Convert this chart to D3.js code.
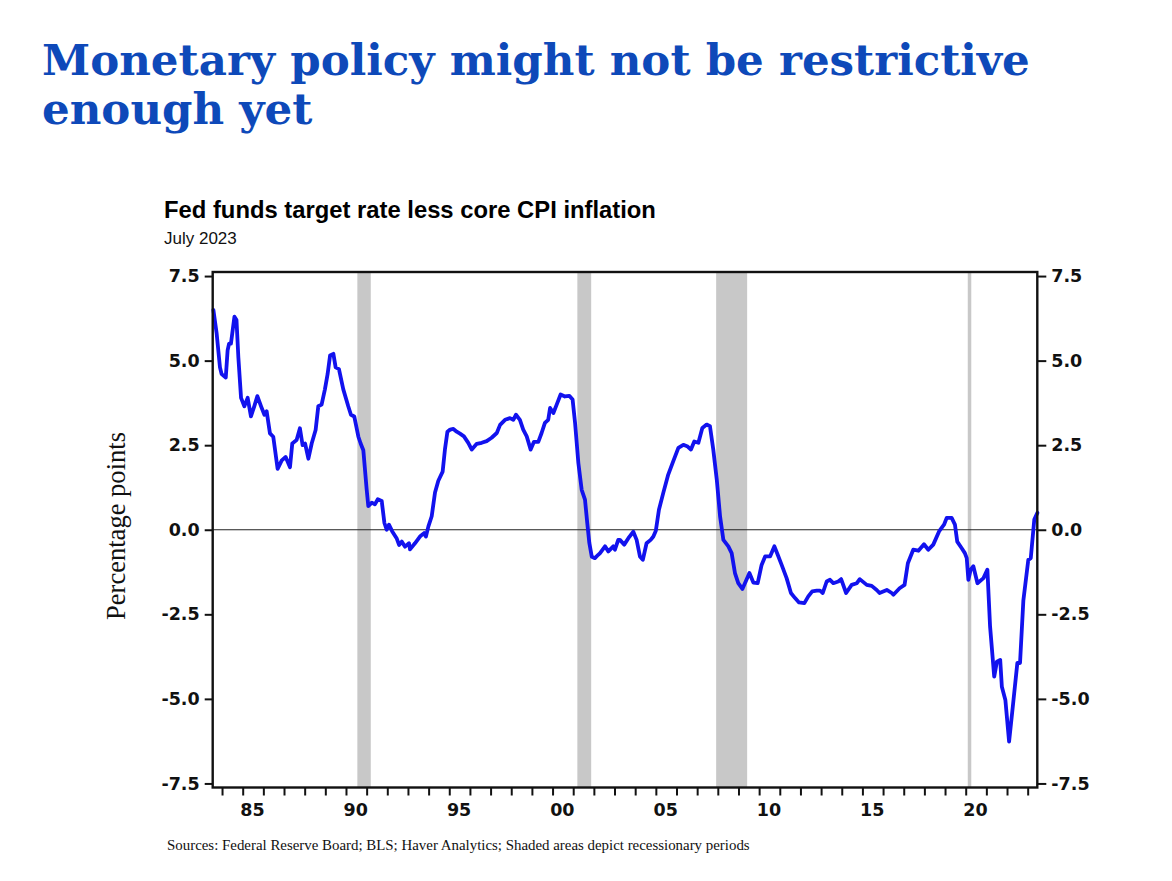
<!DOCTYPE html>
<html><head><meta charset="utf-8">
<script src="https://cdn.jsdelivr.net/npm/d3@7"></script>
<style>body{margin:0;background:#fff}svg{display:block}</style>
</head><body>
<svg id="c" width="1172" height="881"></svg>
<script>
// ---- data ----
const titleLines = ["Monetary policy might not be restrictive", "enough yet"];
const chartTitle = "Fed funds target rate less core CPI inflation";
const chartSubtitle = "July 2023";
const yLabel = "Percentage points";
const sourceText = "Sources: Federal Reserve Board; BLS; Haver Analytics; Shaded areas depict recessionary periods";

const years = [1983.58,1983.74,1983.90,1983.98,1984.18,1984.27,1984.34,1984.43,1984.60,1984.70,1984.79,1984.92,
1985.08,1985.24,1985.40,1985.56,1985.71,1985.89,1986.05,1986.16,1986.32,1986.48,1986.69,1986.89,1987.08,1987.29,1987.40,
1987.61,1987.77,1987.90,1988.02,1988.18,1988.34,1988.53,1988.66,1988.82,1988.98,1989.11,1989.23,1989.39,1989.50,1989.66,
1989.87,1990.11,1990.24,1990.40,1990.60,1990.71,1990.84,1991.00,1991.08,1991.25,1991.40,1991.54,1991.73,1991.86,1991.97,
1992.08,1992.24,1992.45,1992.57,1992.70,1992.86,1993.05,1993.10,1993.34,1993.58,1993.78,1993.87,1993.99,1994.15,1994.31,
1994.47,1994.68,1994.79,1994.91,1995.04,1995.20,1995.36,1995.52,1995.71,1995.92,1996.09,1996.33,1996.57,1996.81,1997.05,
1997.30,1997.46,1997.70,1997.94,1998.10,1998.23,1998.42,1998.58,1998.75,1998.94,1999.10,1999.31,1999.47,1999.63,1999.79,
1999.88,2000.04,2000.20,2000.39,2000.60,2000.81,2000.97,2001.09,2001.25,2001.41,2001.57,2001.68,2001.78,2001.90,2002.05,
2002.21,2002.30,2002.54,2002.70,2002.94,2003.02,2003.18,2003.26,2003.47,2003.67,2003.91,2004.07,2004.23,2004.37,2004.55,
2004.75,2004.88,2005.00,2005.15,2005.36,2005.60,2005.84,2006.09,2006.33,2006.54,2006.70,2006.86,2007.06,2007.25,2007.46,
2007.62,2007.78,2007.95,2008.11,2008.27,2008.51,2008.67,2008.83,2008.99,2009.19,2009.35,2009.53,2009.72,2009.93,2010.12,
2010.29,2010.53,2010.74,2010.90,2011.09,2011.33,2011.54,2011.74,2011.93,2012.19,2012.38,2012.57,2012.79,2012.95,2013.08,
2013.27,2013.43,2013.59,2013.83,2013.97,2014.21,2014.48,2014.73,2014.87,2015.21,2015.45,2015.69,2015.83,2016.18,2016.42,
2016.50,2016.80,2017.04,2017.20,2017.46,2017.71,2017.98,2018.19,2018.43,2018.71,2018.95,2019.08,2019.32,2019.48,2019.59,
2019.80,2019.96,2020.05,2020.13,2020.24,2020.37,2020.57,2020.86,2021.05,2021.18,2021.38,2021.51,2021.67,2021.75,2021.92,
2022.10,2022.28,2022.50,2022.63,2022.79,2023.03,2023.15,2023.32,2023.47];
const values = [6.5,5.8,4.8,4.6,4.5,5.3,5.5,5.5,6.3,6.2,5.1,3.9,
3.65,3.9,3.35,3.65,3.95,3.65,3.4,3.5,2.85,2.75,1.8,2.05,2.15,1.85,2.55,
2.65,3.0,2.5,2.55,2.1,2.55,2.95,3.65,3.7,4.15,4.6,5.15,5.2,4.8,4.75,
4.15,3.65,3.4,3.35,2.75,2.55,2.35,1.2,0.7,0.8,0.75,0.9,0.85,0.2,0.0,
0.15,-0.05,-0.25,-0.45,-0.35,-0.5,-0.4,-0.58,-0.4,-0.2,-0.1,-0.2,0.1,0.4,1.1,
1.45,1.72,2.37,2.9,2.96,2.98,2.9,2.84,2.76,2.57,2.37,2.54,2.57,2.62,2.72,
2.86,3.1,3.25,3.3,3.25,3.4,3.25,2.96,2.76,2.37,2.6,2.6,2.86,3.16,3.25,
3.6,3.45,3.7,4.0,3.94,3.96,3.85,3.16,1.97,1.18,0.89,0.2,-0.39,-0.8,-0.84,
-0.74,-0.69,-0.49,-0.64,-0.49,-0.59,-0.3,-0.3,-0.44,-0.25,-0.06,-0.3,-0.79,-0.89,-0.4,
-0.3,-0.2,-0.03,0.59,1.09,1.63,2.02,2.42,2.51,2.46,2.37,2.61,2.57,3.01,3.11,
3.06,2.37,1.48,0.39,-0.3,-0.49,-0.69,-1.28,-1.58,-1.75,-1.53,-1.28,-1.56,-1.58,-1.04,
-0.79,-0.79,-0.49,-0.74,-1.04,-1.43,-1.87,-2.02,-2.15,-2.17,-1.97,-1.82,-1.8,-1.8,-1.87,
-1.53,-1.48,-1.58,-1.53,-1.46,-1.87,-1.63,-1.58,-1.46,-1.63,-1.66,-1.78,-1.87,-1.78,-1.87,
-1.92,-1.73,-1.63,-0.99,-0.59,-0.62,-0.43,-0.59,-0.44,-0.05,0.15,0.35,0.35,0.15,-0.35,
-0.54,-0.69,-0.84,-1.48,-1.18,-1.08,-1.58,-1.43,-1.18,-2.86,-4.34,-3.9,-3.85,-4.64,-5.03,
-6.26,-5.23,-3.94,-3.94,-2.1,-0.89,-0.84,0.3,0.5];

const recessionStart = [1990.55, 2001.2, 2007.92, 2020.1];
const recessionEnd   = [1991.2, 2001.87, 2009.42, 2020.27];

const yTicks = [7.5, 5.0, 2.5, 0.0, -2.5, -5.0, -7.5];
const xMajorTicks = [1985, 1990, 1995, 2000, 2005, 2010, 2015, 2020];
const xMinorTicks = d3.range(1984, 2024);

// ---- layout ----
const svg = d3.select("#c");
const L = 212.7, R = 1037.3, T = 272, B = 787.5;
const x = d3.scaleLinear().domain([1983.548, 2023.466]).range([L, R]);
const y = d3.scaleLinear().domain([-7.62, 7.62]).range([B, T]);

function fitWidth(sel, w) {
  const fs = parseFloat(sel.attr("font-size"));
  const cur = sel.node().getComputedTextLength();
  sel.attr("font-size", (fs * w / cur).toFixed(2));
}

// headline
const t1 = svg.append("text").attr("x", 42).attr("y", 75)
  .attr("font-family", "DejaVu Serif").attr("font-weight", "bold")
  .attr("font-size", 44).attr("fill", "#0e49b9").text(titleLines[0]);
fitWidth(t1, 988);
const fsT = t1.attr("font-size");
svg.append("text").attr("x", 42).attr("y", 124)
  .attr("font-family", "DejaVu Serif").attr("font-weight", "bold")
  .attr("font-size", fsT).attr("fill", "#0e49b9").text(titleLines[1]);

const st = svg.append("text").attr("x", 164).attr("y", 218)
  .attr("font-family", "Liberation Sans, Arial, sans-serif").attr("font-weight", "bold")
  .attr("font-size", 20).attr("fill", "#000").text(chartTitle);
fitWidth(st, 492);
svg.append("text").attr("x", 164).attr("y", 244)
  .attr("font-family", "Liberation Sans, Arial, sans-serif")
  .attr("font-size", 17).attr("fill", "#111").text(chartSubtitle);

// recessions
const rec = recessionStart.map((s, i) => ({s, e: recessionEnd[i]}));
svg.append("g").selectAll("rect").data(rec).join("rect")
  .attr("x", d => x(d.s)).attr("width", d => x(d.e) - x(d.s))
  .attr("y", T).attr("height", B - T).attr("fill", "#c8c8c8");

// zero line
svg.append("line").attr("x1", L).attr("x2", R).attr("y1", y(0)).attr("y2", y(0))
  .attr("stroke", "#222").attr("stroke-width", 1.2);

// series
const pts = years.map((yr, i) => [yr, values[i]]);
svg.append("path").datum(pts)
  .attr("fill", "none").attr("stroke", "#1212ee").attr("stroke-width", 3.8)
  .attr("stroke-linejoin", "round").attr("stroke-linecap", "round")
  .attr("d", d3.line().x(d => x(d[0])).y(d => y(d[1])));

// frame
svg.append("rect").attr("x", L).attr("y", T).attr("width", R - L).attr("height", B - T)
  .attr("fill", "none").attr("stroke", "#111").attr("stroke-width", 2.4);

// axes
const fmtY = v => v.toFixed(1);
const axL = svg.append("g").attr("transform", `translate(${L},0)`)
  .call(d3.axisLeft(y).tickValues(yTicks).tickFormat(fmtY).tickSize(8).tickPadding(5));
const axR = svg.append("g").attr("transform", `translate(${R},0)`)
  .call(d3.axisRight(y).tickValues(yTicks).tickFormat(fmtY).tickSize(9).tickPadding(5));
const axB = svg.append("g").attr("transform", `translate(0,${B})`)
  .call(d3.axisBottom(x).tickValues(xMinorTicks).tickFormat("").tickSize(8));
const axBL = svg.append("g").attr("transform", `translate(0,${B})`)
  .call(d3.axisBottom(x).tickValues(xMajorTicks.map(v => v + 0.45))
    .tickFormat(v => String(Math.floor(v) % 100).padStart(2, "0")).tickSize(0).tickPadding(16));
[axL, axR, axB, axBL].forEach(g => {
  g.select(".domain").remove();
  g.selectAll("line").attr("stroke", "#111").attr("stroke-width", 2);
  g.selectAll("text").attr("font-family", "DejaVu Sans, Verdana, sans-serif")
    .attr("font-weight", "bold").attr("font-size", 17.5).attr("fill", "#111");
});
axBL.selectAll("line").remove();

// y label
const yl = svg.append("text").attr("transform", "translate(125,526) rotate(-90)")
  .attr("text-anchor", "middle").attr("font-family", "Liberation Serif, Times New Roman, serif")
  .attr("font-size", 26).attr("fill", "#111").text(yLabel);
fitWidth(yl, 188);

// source
const src = svg.append("text").attr("x", 167).attr("y", 850)
  .attr("font-family", "Liberation Serif, Times New Roman, serif")
  .attr("font-size", 14).attr("fill", "#111").text(sourceText);
fitWidth(src, 583);
</script>
</body></html>
